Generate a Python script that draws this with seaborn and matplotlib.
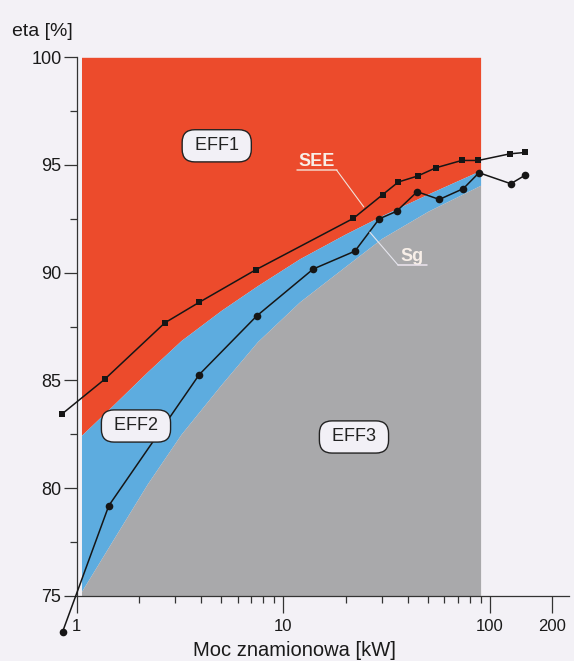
import numpy as np
import matplotlib
matplotlib.use("Agg")
import matplotlib.pyplot as plt
from matplotlib.ticker import FixedLocator, FixedFormatter, NullFormatter
import seaborn as sns

# ---- data ----
see_kw = [0.852, 1.37, 2.67, 3.91, 7.34, 21.8, 30.2, 36.0, 44.7, 54.7, 72.9, 87.7, 125, 147.5]
see_eta = [83.45, 85.06, 87.67, 88.62, 90.13, 92.52, 93.62, 94.21, 94.49, 94.87, 95.21, 95.21, 95.52, 95.58]

sg_kw = [0.855, 1.43, 3.92, 7.43, 13.95, 22.2, 29.1, 35.3, 44.4, 56.8, 74.2, 88.4, 126, 147.5]
sg_eta = [73.33, 79.18, 85.27, 87.99, 90.17, 91.0, 92.5, 92.85, 93.76, 93.4, 93.9, 94.64, 94.13, 94.52]

# class boundaries (EFF1 lower limit / EFF2 lower limit)
bound_kw = [1.055, 1.5, 2.2, 3.2, 5.0, 7.5, 12, 20, 30, 50, 90]
eff1_low = [82.45, 83.85, 85.4, 86.85, 88.25, 89.4, 90.65, 91.8, 92.65, 93.65, 94.75]
eff2_low = [75.2, 77.6, 80.2, 82.5, 84.8, 86.8, 88.65, 90.3, 91.6, 92.85, 94.06]

x_ticks = [1, 10, 100, 200]
x_tick_labels = ["1", "10", "100", "200"]
x_minor = [2, 3, 4, 5, 6, 7, 8, 9, 20, 30, 40, 50, 60, 70, 80, 90]
y_ticks = [75, 80, 85, 90, 95, 100]
y_minor = [77.5, 82.5, 87.5, 92.5, 97.5]

# ---- style ----
sns.set_theme(style="ticks")
plt.rcParams["font.family"] = ["Liberation Sans", "DejaVu Sans"]

BG = "#F3F1F6"
RED = "#EC4B2C"
BLUE = "#5DACDF"
GRAY = "#A9A9AB"
INK = "#161616"

fig = plt.figure(figsize=(5.74, 6.61), dpi=100, facecolor=BG)
ax = fig.add_axes([0.1336, 0.0988, 0.8577, 0.8145])
ax.set_facecolor(BG)
ax.set_xscale("log")
ax.set_xlim(1, 241)
ax.set_ylim(75, 100)

# regions
ax.fill_between(bound_kw, eff1_low, 100, color=RED, lw=0, zorder=1)
ax.fill_between(bound_kw, eff2_low, eff1_low, color=BLUE, lw=0, zorder=1)
ax.fill_between(bound_kw, 75, eff2_low, color=GRAY, lw=0, zorder=1)

# series
sns.lineplot(x=see_kw, y=see_eta, ax=ax, color=INK, lw=1.1, marker="s",
             markersize=5, markeredgewidth=0, markerfacecolor=INK,
             sort=False, estimator=None, legend=False, zorder=3)
sns.lineplot(x=sg_kw, y=sg_eta, ax=ax, color=INK, lw=1.1, marker="o",
             markersize=5.5, markeredgewidth=0, markerfacecolor=INK,
             sort=False, estimator=None, legend=False, zorder=3)
for ln in ax.lines:
    ln.set_clip_on(False)

# axes styling
for s in ["top", "right"]:
    ax.spines[s].set_visible(False)
for s in ["left", "bottom"]:
    ax.spines[s].set_color("#333333")
    ax.spines[s].set_linewidth(0.9)

ax.xaxis.set_major_locator(FixedLocator(x_ticks))
ax.xaxis.set_major_formatter(FixedFormatter(x_tick_labels))
ax.xaxis.set_minor_locator(FixedLocator(x_minor))
ax.xaxis.set_minor_formatter(NullFormatter())
ax.yaxis.set_major_locator(FixedLocator(y_ticks))
ax.yaxis.set_minor_locator(FixedLocator(y_minor))

ax.tick_params(axis="x", which="major", length=12, width=0.9, pad=4.5,
               labelsize=12, color="#333333", labelcolor="#1a1a1a")
ax.tick_params(axis="x", which="minor", length=5, width=0.9, color="#333333")
ax.tick_params(axis="y", which="major", length=9.5, width=0.9, pad=1.5,
               labelsize=13, color="#333333", labelcolor="#1a1a1a")
ax.tick_params(axis="y", which="minor", length=5, width=0.9, color="#333333")

ax.set_xlabel("Moc znamionowa [kW]", fontsize=14.5, color="#1a1a1a")
ax.xaxis.set_label_coords(0.443, (595.7 - 656.3) / 538.4)
ax.xaxis.label.set_va("baseline")
ax.set_ylabel("")
fig.text(42.5 / 574, 1 - 31 / 661, "eta [%]", fontsize=14, ha="center",
         va="center", color="#1a1a1a")

# class labels
box = dict(boxstyle="round,pad=0.42,rounding_size=0.7", fc="#F2F0F6",
           ec="#222222", lw=1)
for txt, (bx, by) in {"EFF1": (4.76, 95.89), "EFF2": (1.936, 82.88),
                      "EFF3": (21.96, 82.37)}.items():
    ax.text(bx, by, " " + txt + " ", fontsize=13, ha="center", va="center",
            color="#222222", bbox=box, zorder=5)

# SEE / Sg labels with leaders
LBL = "#F8EFE8"
ax.text(14.46, 95.16, "SEE", fontsize=13, fontweight="bold", color=LBL,
        ha="center", va="center", zorder=6)
ax.plot([11.6, 18.1], [94.76, 94.76], color="#F3D3C6", lw=1.1, zorder=6)
ax.plot([18.1, 24.5], [94.76, 93.05], color="#F1E2DA", lw=0.8, zorder=6)

ax.text(42.1, 90.75, "Sg", fontsize=13, fontweight="bold", color=LBL,
        ha="center", va="center", zorder=6)
ax.plot([35.9, 49.4], [90.35, 90.35], color="#EDE6F0", lw=1.1, zorder=6)
ax.plot([35.9, 26.2], [90.35, 91.88], color="#E6E6EE", lw=0.8, zorder=6)

fig.savefig("out.png", dpi=100, facecolor=BG)
